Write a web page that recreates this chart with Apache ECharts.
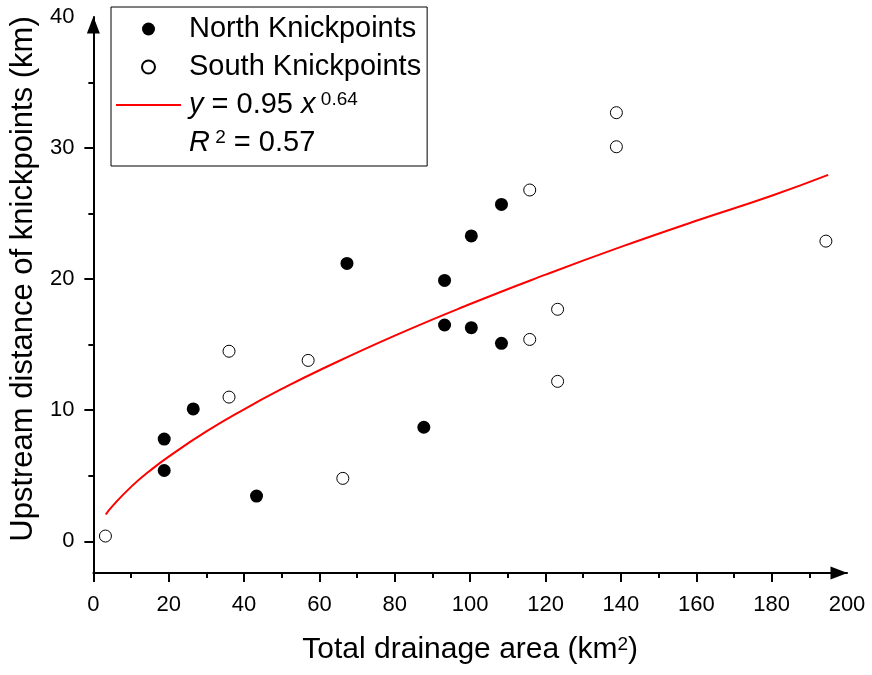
<!DOCTYPE html>
<html>
<head>
<meta charset="utf-8">
<script src="https://cdn.jsdelivr.net/npm/echarts@6/dist/echarts.min.js"></script>
<style>
  html, body { margin: 0; padding: 0; background: #fff; }
  #chart { width: 872px; height: 675px; }
</style>
</head>
<body>
<div id="chart"></div>
<script>
// Knickpoints: drainage area (km²) vs upstream distance (km)
const northArea = [18.8, 18.8, 26.5, 43.3, 67.3, 87.7, 93.2, 93.2, 100.3, 100.3, 108.3, 108.3];
const northDist = [7.8, 5.4, 10.1, 3.45, 21.2, 8.7, 19.9, 16.5, 23.3, 16.3, 25.7, 15.1];

const southArea = [3.2, 36.0, 36.0, 57.0, 66.2, 115.8, 115.8, 123.2, 123.2, 138.8, 138.8, 194.4];
const southDist = [0.4, 14.5, 11.0, 13.8, 4.8, 26.8, 15.4, 17.7, 12.2, 32.7, 30.1, 22.9];

// Power-law fit curve y = 0.95 x^0.64, sampled along the drawn line
const fitArea = [3.3, 5, 10, 15, 20, 30, 40, 50, 60, 80, 100, 120, 140, 160, 180, 195];
const fitDist = [2.04, 2.66, 4.15, 5.38, 6.46, 8.38, 10.07, 11.62, 13.05, 15.69, 18.10, 20.34, 22.46, 24.45, 26.36, 27.95];

// Axis ticks and labels
const xMajorTicks = [0, 20, 40, 60, 80, 100, 120, 140, 160, 180];
const xMinorTicks = [10, 30, 50, 70, 90, 110, 130, 150, 170, 190];
const xLabels = [0, 20, 40, 60, 80, 100, 120, 140, 160, 180, 200];
const yMajorTicks = [0, 10, 20, 30];
const yMinorTicks = [5, 15, 25, 35];
const yLabels = [0, 10, 20, 30, 40];

const FONT = "'Liberation Sans', Arial, sans-serif";
const zip = (a, b) => a.map((v, i) => [v, b[i]]);

const axisLineStyle = { color: '#000', width: 2 };
const X_MIN = 0, X_MAX = 200, Y_MIN = -2.42, Y_MAX = 40;

const minorAxisCommon = {
  type: 'value', show: true, silent: true,
  axisLine: { show: false, onZero: false },
  axisLabel: { show: false },
  splitLine: { show: false }
};

const chart = echarts.init(document.getElementById('chart'), null, { renderer: 'canvas' });
chart.setOption({
  animation: false,
  backgroundColor: '#fff',
  grid: { left: 92, right: 25, top: 17, bottom: 102, containLabel: false },
  xAxis: [
    {
      type: 'value', min: X_MIN, max: X_MAX, position: 'bottom',
      name: 'Total drainage area (km{sup|2})',
      nameLocation: 'middle', nameGap: 62,
      nameTextStyle: {
        fontFamily: FONT, fontSize: 30, color: '#000',
        rich: { sup: { fontFamily: FONT, fontSize: 19, color: '#000', verticalAlign: 'top', lineHeight: 19 } }
      },
      axisLine: { onZero: false, lineStyle: axisLineStyle, symbol: ['none', 'triangle'], symbolSize: [13, 17], symbolOffset: [0, -8] },
      axisTick: { show: true, length: 9, lineStyle: { color: '#000', width: 2 }, customValues: xMajorTicks },
      axisLabel: { fontFamily: FONT, fontSize: 22, color: '#000', margin: 21, customValues: xLabels },
      splitLine: { show: false }
    },
    Object.assign({}, minorAxisCommon, {
      min: X_MIN, max: X_MAX, position: 'bottom',
      axisTick: { show: true, length: 5, lineStyle: { color: '#000', width: 2 }, customValues: xMinorTicks }
    })
  ],
  yAxis: [
    {
      type: 'value', min: Y_MIN, max: Y_MAX, position: 'left',
      name: 'Upstream distance of knickpoints (km)',
      nameLocation: 'middle', nameGap: 50,
      nameTextStyle: { fontFamily: FONT, fontSize: 31, color: '#000', padding: [0, 0, 0, 32] },
      axisLine: { onZero: false, lineStyle: axisLineStyle, symbol: ['none', 'triangle'], symbolSize: [13, 17], symbolOffset: [0, -8] },
      axisTick: { show: true, length: 9, lineStyle: { color: '#000', width: 2 }, customValues: yMajorTicks },
      axisLabel: { fontFamily: FONT, fontSize: 22, color: '#000', margin: 19, customValues: yLabels },
      splitLine: { show: false }
    },
    Object.assign({}, minorAxisCommon, {
      min: Y_MIN, max: Y_MAX, position: 'left',
      axisTick: { show: true, length: 5, lineStyle: { color: '#000', width: 2 }, customValues: yMinorTicks }
    })
  ],
  legend: {
    orient: 'vertical',
    left: 111, top: 7,
    padding: [7, 6, 8, 4],
    itemGap: 8,
    itemWidth: 65, itemHeight: 13,
    borderColor: '#000', borderWidth: 1,
    backgroundColor: '#fff',
    selectedMode: false,
    textStyle: {
      fontFamily: FONT, fontSize: 29, color: '#000', lineHeight: 30, padding: [0, 0, 0, 3],
      rich: {
        i: { fontFamily: FONT, fontSize: 29, fontStyle: 'italic', color: '#000', lineHeight: 30 },
        sup: { fontFamily: FONT, fontSize: 19, color: '#000', verticalAlign: 'top', lineHeight: 19 }
      }
    },
    formatter: function (name) {
      if (name === 'fit') return '{i|y} = 0.95 {i|x}{sup| 0.64}';
      if (name === 'r2') return '{i|R}{sup| 2} = 0.57';
      return name;
    },
    data: [
      { name: 'North Knickpoints' },
      { name: 'South Knickpoints' },
      { name: 'fit', itemStyle: { opacity: 0 } },
      { name: 'r2', icon: 'none' }
    ]
  },
  series: [
    {
      name: 'fit', type: 'line', data: zip(fitArea, fitDist),
      smooth: true, showSymbol: false, symbol: 'none',
      lineStyle: { color: '#ff0000', width: 2 }, itemStyle: { color: '#ff0000' },
      z: 1
    },
    {
      name: 'North Knickpoints', type: 'scatter', data: zip(northArea, northDist),
      symbol: 'circle', symbolSize: 13,
      itemStyle: { color: '#000', opacity: 1 }, z: 3
    },
    {
      name: 'South Knickpoints', type: 'scatter', data: zip(southArea, southDist),
      symbol: 'circle', symbolSize: 12,
      itemStyle: { color: '#fff', borderColor: '#000', borderWidth: 1, opacity: 1 }, z: 3
    },
    {
      name: 'r2', type: 'line', data: [], showSymbol: false,
      lineStyle: { opacity: 0 }, itemStyle: { opacity: 0 }
    }
  ]
});
</script>
</body>
</html>
